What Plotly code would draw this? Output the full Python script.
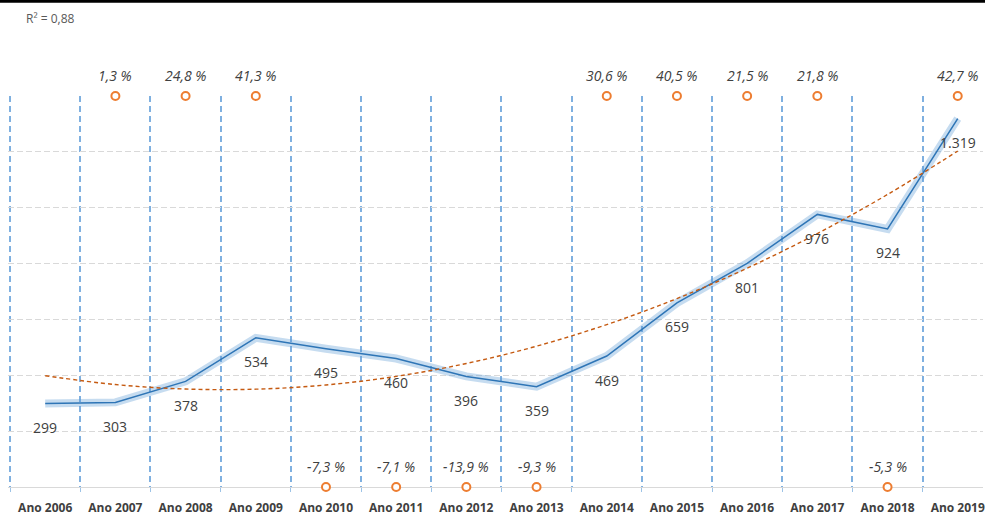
import numpy as np
import plotly.graph_objects as go

categories = ["Ano 2006", "Ano 2007", "Ano 2008", "Ano 2009", "Ano 2010", "Ano 2011", "Ano 2012",
              "Ano 2013", "Ano 2014", "Ano 2015", "Ano 2016", "Ano 2017", "Ano 2018", "Ano 2019"]
values = [299, 303, 378, 534, 495, 460, 396, 359, 469, 659, 801, 976, 924, 1319]
pct_change = [None, 1.3, 24.8, 41.3, -7.3, -7.1, -13.9, -9.3, 30.6, 40.5, 21.5, 21.8, -5.3, 42.7]
r2_text = "R² = 0,88"

Y_MAX = 1400
Y_STEP = 200

# quadratic trendline fitted to the data
idx = np.arange(len(values))
coef = np.polyfit(idx, values, 2)
trend = np.polyval(coef, idx)

fig = go.Figure()
fig.add_trace(go.Scatter(x=categories, y=values, mode="lines",
                         line=dict(color="rgba(91,155,213,0.35)", width=8), hoverinfo="skip"))
fig.add_trace(go.Scatter(x=categories, y=values, mode="lines",
                         line=dict(color="#2E75B6", width=1.5)))
fig.add_trace(go.Scatter(x=categories, y=trend, mode="lines",
                         line=dict(color="#C55A11", width=1.4, dash="4px,3px", shape="spline")))

pc_x = [c for c, p in zip(categories, pct_change) if p is not None]
pc_v = [p for p in pct_change if p is not None]
pc_y = [Y_MAX if p > 0 else 0 for p in pc_v]
fig.add_trace(go.Scatter(x=pc_x, y=pc_y, mode="markers", cliponaxis=False,
                         marker=dict(symbol="circle", size=8, color="white",
                                     line=dict(color="#ED7D31", width=2))))

annotations = []
for c, v in zip(categories, values):
    annotations.append(dict(x=c, y=v, text=f"{v:,}".replace(",", "."), showarrow=False,
                            yshift=-24, font=dict(family="Open Sans", size=14, color="#404040")))
for c, p, y in zip(pc_x, pc_v, pc_y):
    annotations.append(dict(x=c, y=y, text="<i>" + f"{p:.1f} %".replace(".", ",") + "</i>",
                            showarrow=False, yshift=21,
                            font=dict(family="Open Sans", size=14, color="#404040")))
annotations.append(dict(xref="paper", yref="paper", x=(24 - 8) / 977, y=(488 - 18) / 392,
                        xanchor="left", yanchor="middle", showarrow=False, text=r2_text,
                        font=dict(family="Open Sans", size=12, color="#595959")))

fig.update_layout(
    width=985, height=516,
    margin=dict(l=8, r=0, t=96, b=28),
    paper_bgcolor="white", plot_bgcolor="white",
    showlegend=False,
    annotations=annotations,
    shapes=[dict(type="rect", xref="paper", yref="paper", x0=-0.02, x1=1.02,
                 y0=(488 - 2.5) / 392, y1=(488 + 1) / 392, fillcolor="black",
                 line=dict(width=0), layer="above")],
    xaxis=dict(type="category", range=[-0.53, 13.36], tickson="boundaries",
               showgrid=True, gridcolor="#7FB0E0", griddash="6px,4px", gridwidth=2,
               ticks="outside", ticklen=4, tickcolor="#9DC3E6", showline=False,
               ticklabelstandoff=12,
               tickfont=dict(family="Open Sans", size=12, color="#404040", weight="bold")),
    yaxis=dict(range=[0, Y_MAX], dtick=Y_STEP, showticklabels=False,
               showgrid=True, gridcolor="#D9D9D9", griddash="6px,3px", gridwidth=1,
               zeroline=True, zerolinecolor="#D9D9D9", zerolinewidth=1),
)

fig.write_html("out.html", config={"displayModeBar": False},
               post_script="document.body.style.margin='0';document.body.style.overflow='hidden';")
